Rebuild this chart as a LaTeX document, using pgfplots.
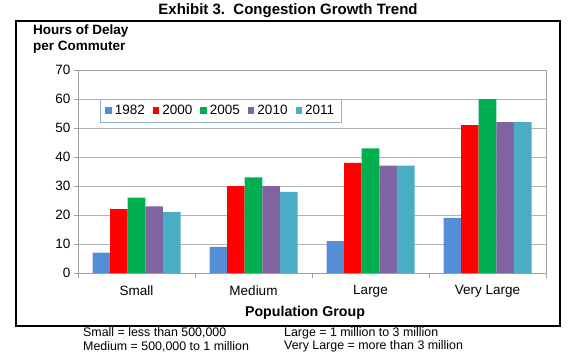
\documentclass[border=0pt]{standalone}
\usepackage{pgfplots}
\pgfplotsset{compat=1.18}
\usepackage{fontspec}
\setmainfont{Liberation Sans}
\definecolor{cA}{HTML}{558ED5}
\definecolor{cB}{HTML}{FF0000}
\definecolor{cC}{HTML}{00B050}
\definecolor{cD}{HTML}{8064A2}
\definecolor{cE}{HTML}{4BACC6}
\definecolor{axgray}{HTML}{A0A0A0}
\definecolor{leg}{HTML}{95B3D7}
\begin{document}
\begin{tikzpicture}[x=1pt,y=1pt]
\useasboundingbox (0,0) rectangle (568,357);
\draw[black, line width=1.3pt] (16,31) rectangle (560,336);
\node[font=\bfseries\fontsize{15}{17}\selectfont] at (288,346) {Exhibit 3.\ \ Congestion Growth Trend};
\node[anchor=north west, align=left, inner sep=0pt, font=\bfseries\fontsize{13.5}{15.5}\selectfont] at (33,332) {Hours of Delay\\per Commuter};
\begin{axis}[at={(78pt,84pt)}, anchor=south west, scale only axis, width=468pt, height=203pt,
  xmin=-0.5, xmax=3.5, ymin=0, ymax=70, ytick={0,10,...,70},
  xtick={0,1,2,3}, xticklabels={Small,Medium,Large,Very Large},
  minor xtick={-0.5,0.5,1.5,2.5,3.5},
  ybar=0pt, bar width=17.6pt,
  axis line style={axgray, line width=0.8pt},
  ymajorgrids, grid style={axgray!80, line width=0.8pt},
  major x tick style={draw=none},
  minor x tick style={axgray, line width=0.8pt},
  major y tick style={axgray, line width=0.8pt},
  tick align=outside, tick pos=left,
  major tick length=4pt, minor tick length=5pt,
  /pgf/number format/assume math mode=true,
  tick label style={font=\fontsize{13.5}{15}\selectfont, black},
  xticklabel style={yshift=-5pt},
  xlabel={Population Group},
  xlabel style={font=\bfseries\fontsize{14.2}{16}\selectfont, yshift=-2pt, xshift=-7pt},
  legend columns=5,
  legend style={at={(0.047,0.857)}, anchor=north west, draw=leg, line width=0.8pt,
    font=\fontsize{13.5}{15}\selectfont, inner xsep=5pt, inner ysep=4pt,
    /tikz/every odd column/.append style={column sep=1pt},
    /tikz/every even column/.append style={column sep=6pt}},
  legend image code/.code={\draw[#1, draw=none] (0pt,-3pt) rectangle (6.5pt,3.5pt);},
]
\addplot[fill=cA, draw=none] coordinates {(0,7) (1,9) (2,11) (3,19)};
\addplot[fill=cB, draw=none] coordinates {(0,22) (1,30) (2,38) (3,51)};
\addplot[fill=cC, draw=none] coordinates {(0,26) (1,33) (2,43) (3,60)};
\addplot[fill=cD, draw=none] coordinates {(0,23) (1,30) (2,37) (3,52)};
\addplot[fill=cE, draw=none] coordinates {(0,21) (1,28) (2,37) (3,52)};
\legend{1982,2000,2005,2010,2011}
\end{axis}
\node[anchor=west, inner sep=0pt, font=\fontsize{12.4}{14}\selectfont] at (83,24) {Small = less than 500,000};
\node[anchor=west, inner sep=0pt, font=\fontsize{12.4}{14}\selectfont] at (83,10.5) {Medium = 500,000 to 1 million};
\node[anchor=west, inner sep=0pt, font=\fontsize{12.4}{14}\selectfont] at (284,24) {Large = 1 million to 3 million};
\node[anchor=west, inner sep=0pt, font=\fontsize{12.4}{14}\selectfont] at (284,10.5) {Very Large = more than 3 million};
\end{tikzpicture}
\end{document}
